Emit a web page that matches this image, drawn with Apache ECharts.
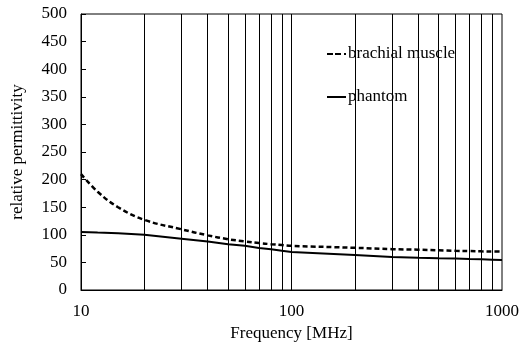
<!DOCTYPE html>
<html>
<head>
<meta charset="utf-8">
<script src="https://cdn.jsdelivr.net/npm/echarts@6/dist/echarts.min.js"></script>
<style>html,body{margin:0;padding:0;background:#fff;}#chart{width:522px;height:347px;}</style>
</head>
<body>
<div id="chart"></div>
<script>
var freqs = [10, 12, 15, 20, 30, 40, 50, 60, 70, 80, 90, 100, 200, 300, 400, 500, 600, 700, 800, 900, 1000];
var muscleValues = [210, 178, 150, 127, 110, 99, 92, 88, 85, 83, 81.5, 80, 76.5, 74, 73, 72, 71, 70.5, 70, 69.7, 69.5];
var phantomValues = [105, 104, 103, 100, 93, 88, 83, 80, 76, 74, 71, 69, 63.5, 60, 58.5, 57.5, 57, 56, 55.5, 55, 54.5];
var gridFreqs = [20, 30, 40, 50, 60, 70, 80, 90, 100, 200, 300, 400, 500, 600, 700, 800, 900];
var seriesNames = ['brachial muscle', 'phantom'];
var xTitle = 'Frequency [MHz]';
var yTitle = 'relative permittivity';

function pairs(xs, ys) { return xs.map(function (x, i) { return [x, ys[i]]; }); }

var FONT = 'Liberation Serif';
var FS = 17;
var dashIcon = 'path://M0,0H6V2H0Z M8,0H14V2H8Z M17,0H19V2H17Z';
var solidIcon = 'path://M0,0H19V2H0Z';
var chart = echarts.init(document.getElementById('chart'), null, { renderer: 'canvas' });
chart.setOption({
  animation: false,
  backgroundColor: '#fff',
  grid: { left: 81, right: 19, top: 14, bottom: 57, show: true, borderColor: '#000', borderWidth: 1, backgroundColor: 'transparent' },
  legend: {
    data: [{ name: seriesNames[0], icon: dashIcon }, { name: seriesNames[1], icon: solidIcon }],
    orient: 'vertical',
    left: 323, top: 27,
    padding: [18.5, 33, 12.5, 4],
    itemGap: 26,
    itemWidth: 19, itemHeight: 2,
    backgroundColor: '#fff',
    itemStyle: { borderWidth: 0, color: '#000' },
    textStyle: { fontFamily: FONT, fontSize: FS, lineHeight: 17, color: '#000', padding: [0, 0, 0, -3] },
    selectedMode: false
  },
  xAxis: {
    type: 'log', logBase: 10, min: 10, max: 1000,
    name: xTitle, nameLocation: 'middle', nameGap: 33,
    nameTextStyle: { fontFamily: FONT, fontSize: FS, color: '#000' },
    axisLine: { show: true, lineStyle: { color: '#000', width: 1 } },
    axisTick: { show: false },
    axisLabel: { fontFamily: FONT, fontSize: FS, color: '#000', margin: 13, formatter: function (v) { return String(v); } },
    splitLine: { show: false },
    minorTick: { show: false }, minorSplitLine: { show: false }
  },
  yAxis: {
    type: 'value', min: 0, max: 500, interval: 50,
    name: yTitle, nameLocation: 'middle', nameGap: 55,
    nameTextStyle: { fontFamily: FONT, fontSize: FS, color: '#000' },
    axisLine: { show: true, lineStyle: { color: '#000', width: 1 } },
    axisTick: { show: true, inside: true, length: 5, lineStyle: { color: '#000' } },
    axisLabel: { fontFamily: FONT, fontSize: FS, color: '#000', margin: 14 },
    splitLine: { show: false }
  },
  series: [
    {
      name: 'grid', type: 'line', data: [], z: 1, silent: true,
      markLine: {
        silent: true, symbol: 'none', animation: false,
        label: { show: false },
        lineStyle: { color: '#000', width: 1, type: 'solid' },
        emphasis: { disabled: true },
        data: gridFreqs.map(function (f) { return { xAxis: f }; })
      }
    },
    {
      name: seriesNames[0], type: 'line', z: 3, data: pairs(freqs, muscleValues),
      smooth: 0.4, symbol: 'none', showSymbol: false,
      lineStyle: { color: '#000', width: 2.5, type: [5, 3] }, itemStyle: { color: '#000' }
    },
    {
      name: seriesNames[1], type: 'line', z: 3, data: pairs(freqs, phantomValues),
      symbol: 'none', showSymbol: false,
      lineStyle: { color: '#000', width: 2 }, itemStyle: { color: '#000' }
    }
  ]
});
</script>
</body>
</html>
